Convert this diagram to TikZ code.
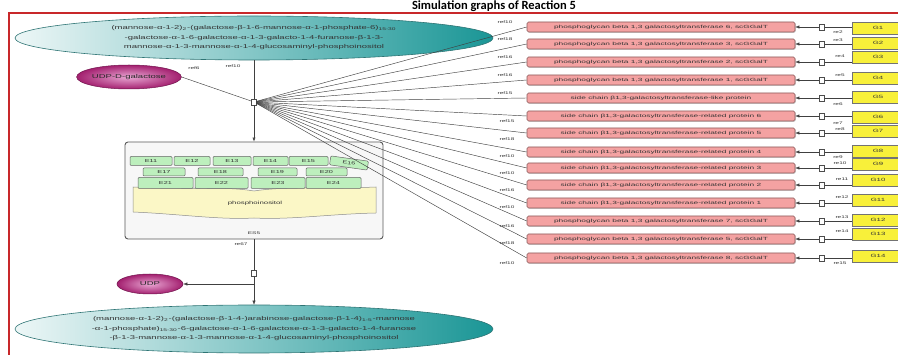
\documentclass[tikz,border=0pt]{standalone}
\usepackage{fontspec}
\usepackage{graphicx}
\setmainfont{Liberation Sans}
\newfontfamily\titlefont{Carlito}
\usetikzlibrary{arrows.meta,shapes.geometric,shadows}

\definecolor{tealdark}{HTML}{1A9696}
\definecolor{tealline}{HTML}{2E7474}
\definecolor{pinkfill}{HTML}{F4A2A2}
\definecolor{pinkline}{HTML}{8A5A5A}
\definecolor{yelfill}{HTML}{F8F03A}
\definecolor{greenfill}{HTML}{BDEFBD}
\definecolor{creamfill}{HTML}{FBF7C6}
\definecolor{magdark}{HTML}{A3206F}
\definecolor{maglight}{HTML}{E9A6D3}
\definecolor{framered}{HTML}{C8282A}

% horizontally stretched text, as the tool renders its labels
\newcommand\wtext[1]{\scalebox{1.7}[1]{#1}}
\newcommand\wwtext[1]{\scalebox{1.85}[1]{#1}}

\tikzset{
  conn/.style={draw=black!75, line width=0.45pt},
  tip/.style={-{Latex[length=4pt,width=3.2pt]}},
  species/.style={ellipse, inner xsep=-60pt, inner ysep=0pt, draw=tealline, line width=0.6pt,
    left color=white!92!tealdark, right color=tealdark, align=center, text=black!80,
    font=\fontsize{5.6}{9.5}\selectfont},
  metab/.style={ellipse, inner sep=0pt, draw=magdark!70!black, line width=0.5pt,
    inner color=maglight, outer color=magdark, text=black!85, font=\fontsize{5.6}{7}\selectfont},
  pinkbox/.style={draw=pinkline, fill=pinkfill, rounded corners=1.5pt, minimum width=268pt,
    minimum height=10pt, inner sep=0pt, line width=0.6pt, text=black!80,
    font=\fontsize{4.5}{5}\selectfont,
    drop shadow={shadow xshift=0.8pt, shadow yshift=-0.8pt, opacity=0.35}},
  ybox/.style={draw=black!55, fill=yelfill, minimum width=52pt, minimum height=12pt,
    inner sep=0pt, line width=0.8pt, text=black!80, font=\fontsize{4.6}{6}\selectfont},
  sqnode/.style={draw=black!70, fill=white, minimum width=5pt, minimum height=5.5pt,
    inner sep=0pt, line width=0.4pt},
  greenbox/.style={draw=black!60, fill=greenfill, rounded corners=1pt, inner sep=0pt,
    line width=0.5pt, text=black!80, font=\fontsize{4.3}{5}\selectfont},
  cplx/.style={draw=black!65, fill=black!3, rounded corners=3pt, line width=0.9pt,
    minimum width=258pt, minimum height=97pt, inner sep=0pt},
  lbl/.style={inner sep=0pt, text=black!80, font=\fontsize{3.8}{4}\selectfont},
}

\begin{document}
\begin{tikzpicture}[x=1pt,y=-1pt]
\useasboundingbox (0,0) rectangle (898,355);

% title and frame
\node[inner sep=0pt, anchor=base, font=\titlefont\bfseries\fontsize{12.5}{13}\selectfont]
  (title) at (494,9.5) {Simulation graphs of Reaction 5};
\draw[framered, line width=1.2pt] (9,370) -- (9,13) -- (910,13);

% substrate and product species
\node[species, minimum width=478pt, minimum height=44pt] (top) at (254,38)
  {\wtext{(mannose-α-1-2)\textsubscript{2}-(galactose-β-1-6-mannose-α-1-phosphate-6)\textsubscript{15-30}}\\
   \wtext{-galactose-α-1-6-galactose-α-1-3-galacto-1-4-furanose-β-1-3-}\\
   \wtext{mannose-α-1-3-mannose-α-1-4-glucosaminyl-phosphoinositol}};
\node[species, minimum width=478pt, minimum height=48pt] (bot) at (254,329)
  {\wtext{(mannose-α-1-2)\textsubscript{2}-(galactose-β-1-4-)arabinose-galactose-β-1-4)\textsubscript{1-5}-mannose}\\
   \wtext{-α-1-phosphate)\textsubscript{15-30}-6-galactose-α-1-6-galactose-α-1-3-galacto-1-4-furanose}\\
   \wtext{-β-1-3-mannose-α-1-3-mannose-α-1-4-glucosaminyl-phosphoinositol}};

\node[metab, minimum width=104pt, minimum height=24pt] (udpgal) at (129,77) {\wtext{UDP-D-galactose}};
\node[metab, minimum width=66pt, minimum height=20pt] (udp) at (150,284) {\wtext{UDP}};

% enzyme complex
\node[cplx] (cx) at (254,190.5) {};
\draw[draw=black!45, fill=creamfill, line width=0.5pt]
  (133,187) .. controls (190,190) and (225,186) .. (254,191)
  .. controls (285,186) and (330,189) .. (376,187) -- (376,213)
  .. controls (330,214) and (290,220) .. (254,218)
  .. controls (220,220) and (180,214) .. (133,212) -- cycle;
\node[inner sep=0pt, text=black!80, font=\fontsize{4.6}{5}\selectfont] (pi) at (255,203) {\wtext{phosphoinositol}};
\foreach \n/\cx/\w in {11/151/42, 12/192/36, 13/232/38, 14/270.5/35, 15/308.5/39}
  \node[greenbox, minimum width=\w pt, minimum height=9pt] (e\n) at (\cx,161) {\wtext{E\n}};
\node[greenbox, minimum width=38pt, minimum height=9pt, rotate=-8] (e16) at (349,163) {\wtext{E16}};
\foreach \n/\cx/\w in {17/164/42, 18/220.5/45, 19/277.5/39, 20/326.5/41}
  \node[greenbox, minimum width=\w pt, minimum height=8pt] (e\n) at (\cx,172) {\wtext{E\n}};
\foreach \n/\cx/\w in {21/165.5/55, 22/221.5/53, 23/278/54, 24/333.5/55}
  \node[greenbox, minimum width=\w pt, minimum height=11pt] (e\n) at (\cx,183) {\wtext{E\n}};
\node[lbl] (es) at (254,233) {\wtext{ES5}};

% reaction junctions
\node[sqnode] (j1) at (254,102) {};
\node[sqnode] (j2) at (254,273) {};
\coordinate (br) at (254,284);

\draw[conn] (top.south) -- (j1.north);
\draw[conn] (udpgal.east) -- (j1);
\draw[conn, tip] (j1.south) -- (cx.north);
\draw[conn] (cx.south) -- (j2.north);
\draw[conn, tip] (j2.south) -- (bot.north);
\draw[conn, tip] (br) -- (udp.east);

\node[lbl] (l1) at (233,66) {\wtext{ref10}};
\node[lbl] (l2) at (194,68) {\wtext{ref6}};
\node[lbl] (l3) at (241,244) {\wtext{re67}};

% enzymes, their genes and the gene-expression reactions
\foreach \i/\py/\gy/\txt in {
  1/27/28/{phosphoglycan beta 1,3 galactosyltransferase 6, scGGalT},
  2/44/43/{phosphoglycan beta 1,3 galactosyltransferase 3, scGGalT},
  3/62/57/{phosphoglycan beta 1,3 galactosyltransferase 2, scGGalT},
  4/80/78/{phosphoglycan beta 1,3 galactosyltransferase 1, scGGalT},
  5/98/97/{side chain β1,3-galactosyltransferase-like protein},
  6/116/117/{side chain β1,3-galactosyltransferase-related protein 6},
  7/133/131/{side chain β1,3-galactosyltransferase-related protein 5},
  8/152/151/{side chain β1,3-galactosyltransferase-related protein 4},
  9/168/164/{side chain β1,3-galactosyltransferase-related protein 3},
  10/185/180/{side chain β1,3-galactosyltransferase-related protein 2},
  11/203/200/{side chain β1,3-galactosyltransferase-related protein 1},
  12/221/220/{phosphoglycan beta 1,3 galactosyltransferase 7, scGGalT},
  13/239/234/{phosphoglycan beta 1,3 galactosyltransferase 5, scGGalT},
  14/258/256/{phosphoglycan beta 1,3 galactosyltransferase 8, scGGalT}}
{
  \node[pinkbox] (p\i) at (661,\py) {\wwtext{\txt}};
  \node[sqnode] (s\i) at (822,\py) {};
  \node[ybox] (g\i) at (878,\gy) {\wtext{G\i}};
  \draw[conn] (j1) -- (p\i.west);
  \draw[conn] (s\i.east) -- (g\i.west |- s\i.east);
  \draw[conn, tip] (s\i.west) -- (p\i.east);
}

% modifier and reaction labels
\foreach \k/\x/\y/\t in {1/505/22/ref10, 2/505/39/ref18, 3/505/57/ref16, 4/505/75/ref16,
  5/505/93/ref15, 6/507/121/ref15, 7/507/139/ref18, 8/507/156/ref10, 9/507/173/ref10,
  10/507/190/ref16, 11/507/207/ref10, 12/507/226/ref16, 13/507/243/ref18, 14/507/263/ref10}
  \node[lbl] (m\k) at (\x,\y) {\wtext{\t}};
\foreach \k/\x/\y/\t in {1/838/32/re2, 2/838/40/re3, 3/840/56/re4, 4/840/75/re5,
  5/838/104/re6, 6/838/123/re7, 7/840/129/re8, 8/838/157/re9, 9/840/163/re10,
  10/842/179/re11, 11/842/197/re12, 12/842/217/re13, 13/842/231/re14, 14/840/263/re15}
  \node[lbl] (r\k) at (\x,\y) {\wtext{\t}};
\end{tikzpicture}
\end{document}
